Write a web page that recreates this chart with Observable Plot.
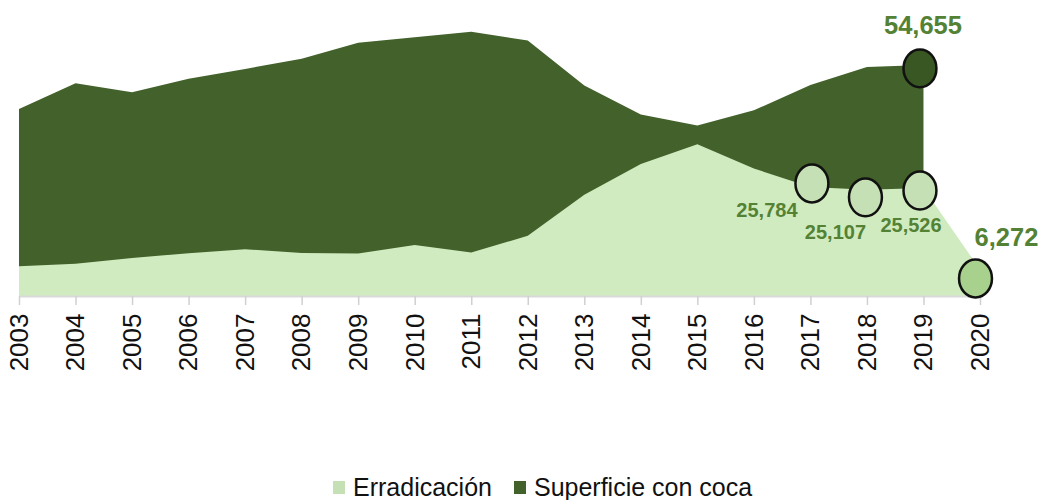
<!DOCTYPE html>
<html><head><meta charset="utf-8">
<script src="https://cdn.jsdelivr.net/npm/d3@7"></script>
<script src="https://cdn.jsdelivr.net/npm/@observablehq/plot@0.6"></script>
<style>
body{margin:0;background:#fff;font-family:Arial,"Liberation Sans",sans-serif;}
#chart{position:relative;width:1043px;height:500px;}
#legend{position:absolute;left:333px;top:473px;display:flex;align-items:center;font-size:25px;color:#111;white-space:nowrap;}
.sw{width:12px;height:13px;display:inline-block;margin-right:8px;}
.item{display:flex;align-items:center;margin-right:22px;}
</style></head><body><div id="chart"><div id="legend"></div></div><script>
const years = [2003,2004,2005,2006,2007,2008,2009,2010,2011,2012,2013,2014,2015,2016,2017,2018,2019,2020];
const superficieYears = years.slice(0, 17);
const superficie = [44200,50300,48200,51400,53700,56100,59900,61200,62500,60400,49800,42900,40300,43900,49900,54134,54655];
const erradicacion = [7022,7605,8966,10137,11057,10143,10025,12033,10290,14235,23947,31205,35868,30150,25784,25107,25526,6272];
const seriesNames = ["Erradicación","Superficie con coca"];

const C = {dark:"#42612b", light:"#d0ebc0", dotLight:"#c5e0b4", dotDark:"#385723", dot2020:"#a9d18e", label:"#548235"};

const supData = superficieYears.map((y,i)=>({year:y,value:superficie[i]}));
const errData = years.map((y,i)=>({year:y,value:erradicacion[i]}));
const fmt = d3.format(",");

const ellipse = {draw(ctx, size){
  const r = Math.sqrt(size/Math.PI), rx = r*0.93, ry = r*1.07, k = 0.5523;
  ctx.moveTo(rx,0);
  ctx.bezierCurveTo(rx, ry*k, rx*k, ry, 0, ry);
  ctx.bezierCurveTo(-rx*k, ry, -rx, ry*k, -rx, 0);
  ctx.bezierCurveTo(-rx, -ry*k, -rx*k, -ry, 0, -ry);
  ctx.bezierCurveTo(rx*k, -ry, rx, -ry*k, rx, 0);
  ctx.closePath();
}};

function pt(series, year){ return (series===0?errData:supData).find(e=>e.year===year); }

// highlighted points: [series index, year, dot fill, dot dx, dot dy, label dx, label dy, font size]
const highlights = [
  [1, 2019, C.dotDark, -4, 3, -1, -40, 25.5],
  [0, 2017, C.dotLight, 1, -4, -44, 23.5, 20],
  [0, 2018, C.dotLight, -2, 7, -32, 42, 20],
  [0, 2019, C.dotLight, -4, 2, -13, 37, 20],
  [0, 2020, C.dot2020, -5, 8.5, 26, -32.5, 25.5]
];

const dotMarks = [], textMarks = [];
for (const [s, yr, fill, ddx, ddy, tdx, tdy, fs] of highlights) {
  const d = [pt(s, yr)];
  dotMarks.push(Plot.dot(d, {x:"year", y:"value", symbol:ellipse, r:17.7, fill, stroke:"#111", strokeWidth:2.5, dx:ddx, dy:ddy}));
  textMarks.push(Plot.text(d, {x:"year", y:"value", text:e=>fmt(e.value), dx:tdx, dy:tdy, fill:C.label, fontWeight:"bold", fontSize:fs, lineAnchor:"middle", textAnchor:"middle"}));
}

const chart = Plot.plot({
  width:1043, height:400,
  marginLeft:19, marginRight:63, marginTop:0, marginBottom:104,
  style:{fontFamily:'Arial,"Liberation Sans",sans-serif', background:"transparent"},
  x:{domain:[2003,2020]},
  y:{domain:[0,70000], axis:null},
  marks:[
    Plot.areaY(supData, {x:"year", y:"value", fill:C.dark}),
    Plot.areaY(errData, {x:"year", y:"value", fill:C.light}),
    Plot.ruleY([0], {stroke:"#d9d9d9", strokeWidth:2}),
    Plot.axisX({ticks:years, tickFormat:d=>String(d), tickRotate:-90, tickSize:9, tickPadding:8, stroke:"#d0d0d0", strokeWidth:1.5, fill:"#111", fontSize:26, label:null}),
    ...dotMarks,
    ...textMarks
  ]
});
const host = document.getElementById("chart");
host.insertBefore(chart, host.firstChild);

const legend = document.getElementById("legend");
[[seriesNames[0], C.dotLight],[seriesNames[1], C.dark]].forEach(([name,col])=>{
  const it = document.createElement("div"); it.className="item";
  const sw = document.createElement("span"); sw.className="sw"; sw.style.background=col;
  it.appendChild(sw); it.appendChild(document.createTextNode(name));
  legend.appendChild(it);
});
</script></body></html>
